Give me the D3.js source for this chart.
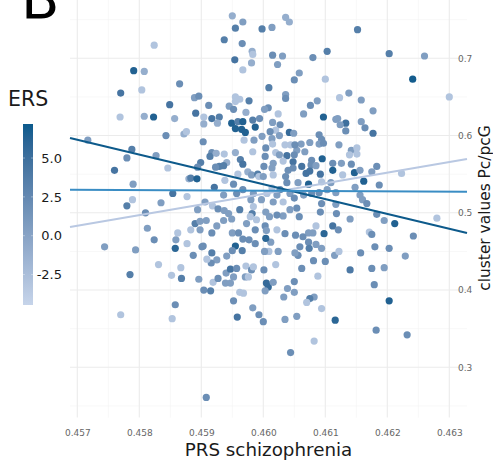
<!DOCTYPE html>
<html>
<head>
<meta charset="utf-8">
<script src="https://cdn.jsdelivr.net/npm/d3@7"></script>
<style>
  body { margin: 0; background: #fff; }
  text { font-family: "DejaVu Sans", sans-serif; }
</style>
</head>
<body>
<div id="chart"></div>
<script>
// PRS schizophrenia (x), cluster values Pc/pcG (y), ERS (colour)
const prs = [
  0.4595,0.45967,0.45955,0.45937,0.45966,0.45824,0.45982,0.45983,0.45954,0.45981,
  0.45967,0.45791,0.45808,0.45865,0.4577,0.45804,0.45889,0.45896,0.45955,0.45962,
  0.45955,0.45977,0.45945,0.45849,0.45912,0.45952,0.45769,0.45808,0.45823,0.45857,
  0.45891,0.45904,0.45917,0.45929,0.45972,0.45926,0.45904,0.45949,0.45959,0.45967,
  0.45983,0.45987,0.45955,0.45965,0.45971,0.45843,0.45872,0.45876,0.45969,0.45985,
  0.45903,0.45717,0.45788,0.4578,0.45827,0.45917,0.45914,0.45924,0.45937,0.45955,
  0.45983,0.4576,0.45846,0.45899,0.45941,0.45963,0.45967,0.45929,0.45936,0.45923,
  0.45894,0.4588,0.45883,0.45893,0.45959,0.45975,0.45981,0.45991,0.45993,0.45994,
  0.45938,
  0.45998,0.46014,0.46036,0.46042,0.46152,0.46015,0.46031,0.46023,0.46103,0.4608,
  0.46203,0.4626,0.46241,0.46058,0.4605,0.461,0.46009,0.46036,0.46036,0.46087,
  0.46076,0.46123,0.46138,0.46158,0.46177,0.46065,0.46097,0.46117,0.46133,0.46158,
  0.46164,0.46177,0.46008,0.46002,0.46024,0.46015,0.46027,0.4602,0.46042,0.46049,
  0.46026,0.46014,0.45998,0.46004,0.46015,0.46035,0.46044,0.46061,0.46075,0.4609,
  0.46094,0.4609,0.46097,0.46122,0.46142,0.46151,0.46139,0.46151,0.46054,0.46067,
  0.4602,0.46026,0.46038,0.4605,0.46003,0.46016,0.46032,0.46048,0.46078,0.46095,
  0.46077,0.46085,0.46112,0.46126,0.46142,0.46001,0.46014,0.4604,0.46048,0.46062,
  0.46069,0.46075,0.46092,0.46112,0.46128,0.46147,0.46156,0.46175,0.46183,0.46223,
  0.46036,0.46016,0.46,0.463,0.46011,0.46051,0.4612,0.46124,0.46133,
  0.4579,0.45789,0.4578,0.45835,0.45854,0.45921,0.45936,0.45952,0.45957,0.45967,
  0.45906,0.45918,0.45927,0.45937,0.45944,0.45949,0.45962,0.45982,0.45984,0.45894,
  0.4589,0.45898,0.45908,0.45883,0.45898,0.45917,0.45925,0.45936,0.4595,0.4596,
  0.45973,0.45979,0.45987,0.45989,0.45967,0.45977,0.45987,0.45955,0.45966,0.4595,
  0.45941,0.45925,0.45916,0.45909,0.45917,0.45901,0.45887,0.45877,0.45862,0.45859,
  0.45858,0.45824,0.45813,0.4581,0.45794,0.45744,0.45831,0.45785,0.45852,0.45867,
  0.45868,0.45896,0.45919,0.45927,0.4594,0.45947,0.45957,0.45972,0.45981,0.45952,
  0.45939,0.45947,0.45971,0.45976,0.45984,0.45904,0.45915,0.45952,0.45962,0.45968,
  0.45983,0.45993,0.45958,0.45858,0.45853,0.4577,0.45908,0.45984,0.4598,0.45877,
  0.45903,
  0.46038,0.46056,0.46073,0.46094,0.46109,0.46148,0.46162,0.46187,0.46014,0.46027,
  0.46043,0.4605,0.46022,0.46006,0.45997,0.46016,0.46032,0.46065,0.46078,0.4609,
  0.46103,0.46117,0.46094,0.46092,0.46117,0.46118,0.46156,0.4616,0.46167,0.46054,
  0.46043,0.46032,0.46022,0.4601,0.46004,0.46058,0.46085,0.46073,0.4608,0.46098,
  0.46112,0.46121,0.4614,0.46183,0.46195,0.46212,0.46242,0.4628,0.46171,0.46175,
  0.4618,0.46203,0.46229,0.46195,0.46175,0.46179,0.46157,0.4614,0.46203,0.46182,
  0.46232,0.46116,0.46082,0.46044,0.46054,0.46035,0.46094,0.46082,0.46075,0.4607,
  0.46039,0.4605,0.4605,0.46033,0.46088,0.461,0.46081,0.46062,0.46115,0.46122,
  0.46094,0.46085,0.46073,0.46074,0.46059,0.46056,0.46051,0.46064,0.46052,0.46024,
  0.4602,0.46009,0.46002,0.46012,0.46004,0.46003,0.46005,0.46001,0.46005,0.46008,
  0.46003,0.46016,0.46035,0.46022,0.46
];
const cluster = [
  0.755,0.747,0.739,0.724,0.719,0.717,0.709,0.705,0.698,0.694,
  0.685,0.684,0.683,0.667,0.655,0.659,0.649,0.651,0.650,0.647,
  0.644,0.645,0.638,0.640,0.639,0.634,0.624,0.625,0.624,0.622,
  0.629,0.624,0.622,0.624,0.630,0.616,0.615,0.616,0.618,0.618,
  0.620,0.611,0.609,0.608,0.604,0.600,0.602,0.605,0.594,0.594,
  0.592,0.594,0.582,0.571,0.574,0.578,0.573,0.577,0.576,0.578,
  0.579,0.555,0.558,0.565,0.565,0.569,0.563,0.560,0.561,0.559,
  0.559,0.544,0.545,0.544,0.550,0.553,0.549,0.550,0.547,0.622,
  0.542,
  0.738,0.740,0.753,0.747,0.737,0.704,0.703,0.692,0.709,0.701,
  0.706,0.703,0.673,0.681,0.672,0.673,0.662,0.653,0.648,0.645,
  0.639,0.649,0.655,0.646,0.632,0.628,0.624,0.621,0.616,0.618,
  0.610,0.603,0.636,0.634,0.628,0.617,0.614,0.607,0.604,0.603,
  0.600,0.596,0.599,0.584,0.589,0.588,0.588,0.589,0.591,0.601,
  0.595,0.589,0.590,0.588,0.581,0.584,0.575,0.576,0.581,0.579,
  0.578,0.575,0.574,0.575,0.573,0.564,0.567,0.566,0.568,0.570,
  0.562,0.561,0.564,0.564,0.563,0.560,0.558,0.555,0.558,0.560,
  0.551,0.554,0.550,0.555,0.549,0.552,0.555,0.553,0.560,0.551,
  0.547,0.549,0.547,0.650,0.605,0.588,0.622,0.614,0.606,
  0.537,0.517,0.509,0.513,0.525,0.533,0.523,0.537,0.525,0.530,
  0.514,0.509,0.505,0.503,0.499,0.492,0.504,0.499,0.508,0.504,
  0.486,0.489,0.490,0.478,0.478,0.474,0.483,0.490,0.474,0.474,
  0.486,0.495,0.478,0.491,0.466,0.465,0.460,0.457,0.451,0.451,
  0.444,0.439,0.435,0.440,0.448,0.456,0.445,0.460,0.474,0.465,
  0.454,0.465,0.480,0.500,0.452,0.456,0.433,0.420,0.419,0.429,
  0.415,0.414,0.410,0.415,0.422,0.427,0.428,0.431,0.426,0.417,
  0.409,0.409,0.417,0.417,0.430,0.400,0.399,0.386,0.397,0.396,
  0.377,0.368,0.365,0.381,0.363,0.368,0.261,0.525,0.517,0.521,
  0.457,
  0.539,0.539,0.537,0.540,0.539,0.533,0.541,0.536,0.532,0.530,
  0.525,0.519,0.523,0.525,0.517,0.514,0.514,0.523,0.525,0.526,
  0.530,0.526,0.512,0.501,0.511,0.499,0.523,0.517,0.512,0.506,
  0.504,0.496,0.497,0.495,0.501,0.495,0.483,0.474,0.474,0.473,
  0.483,0.478,0.492,0.498,0.490,0.486,0.470,0.493,0.475,0.472,
  0.456,0.454,0.444,0.429,0.428,0.407,0.448,0.426,0.386,0.348,
  0.342,0.361,0.334,0.319,0.366,0.362,0.376,0.391,0.389,0.384,
  0.402,0.397,0.411,0.391,0.418,0.437,0.438,0.428,0.445,0.450,
  0.454,0.459,0.462,0.454,0.456,0.445,0.448,0.469,0.471,0.450,
  0.433,0.450,0.450,0.462,0.467,0.483,0.477,0.426,0.409,0.404,
  0.399,0.410,0.473,0.478,0.359
];
const ers = [
  -1,0.5,3.5,3.5,2,-3,-1,-3,4.5,-1,
  -3,6.5,-1,2,4.5,-3,0.5,2,-3,-3,
  -3,3.5,0.5,4.5,2,2,-3,-1,6.5,-1,
  4.5,-3,4.5,3.5,-1,-1,-1,6.5,3.5,6.5,
  3.5,6.5,6.5,6.5,6.5,2,-1,-3,-3,0.5,
  2,0.5,3.5,2,0.5,2,3.5,-1,-3,-1,
  -3,4.5,-3,3.5,-1,3.5,4.5,3.5,3.5,2,
  2,-1,3.5,6.5,-3,-1,0.5,3.5,-3,2,
  -3,
  3.5,0.5,-1,-1,3.5,2,0.5,0.5,3.5,2,
  3.5,0.5,7,0.5,2,-3,3.5,0.5,2,0.5,
  2,-3,0.5,0.5,0.5,0.5,6.5,0.5,5,0.5,
  2,4.5,2,0.5,-3,0.5,2,-3,5.5,0.5,
  0.5,0.5,0.5,2,-3,-3,-3,0.5,0.5,2,
  2,0.5,2,0.5,0.5,-3,-3,-3,0.5,0.5,
  -3,0.5,4.5,2,2,0.5,-3,4.5,2,6.5,
  2,0.5,2,0.5,2,2,0.5,2,2,4.5,
  4.5,4.5,4.5,6.5,-3,6.5,0.5,0.5,2,-3,
  2,-3,0.5,-3,2,2,0.5,0.5,2,
  0.5,-3,3.5,0.5,4.5,4.5,0.5,2,2,2,
  0.5,-3,2,0.5,0.5,0.5,3.5,3.5,-3,0.5,
  3.5,0.5,0.5,-3,0.5,2,0.5,0.5,0.5,2,
  0.5,-3,2,-3,2,2,2,6.5,3.5,2,
  0.5,0.5,2,-3,3.5,2,2,-3,-3,0.5,
  6,2,0.5,2,0.5,0.5,-3,3.5,-3,-3,
  3.5,0.5,-3,2,0.5,4.5,2,-3,2,0.5,
  0.5,0.5,0.5,-3,-3,2,3.5,2,-3,-3,
  0.5,2,4.5,2,-3,-3,2,0.5,0.5,-3,
  2,
  2,0.5,6.5,-3,0.5,0.5,6.5,2,-3,2,
  0.5,2,0.5,-3,0.5,0.5,-3,0.5,2,2,
  0.5,0.5,2,2,0.5,2,0.5,0.5,2,2,
  0.5,0.5,2,0.5,0.5,2,-3,0.5,0.5,6,
  4.5,2,0.5,2,0.5,6.5,2,-3,-3,2,
  2,2,0.5,0.5,2,2,2,4,6.5,2,
  2,6,-3,2,0.5,0.5,-3,0.5,3.5,-3,
  0.5,0.5,2,0.5,-3,2,2,2,0.5,-3,
  0.5,0.5,2,3.5,2,2,0.5,2,2,0.5,
  -3,-3,0.5,0.5,6,2,0.5,2,5.5,5.5,
  0.5,0.5,2,-3,2
];

// fitted lines at ERS high / mean / low: value at x = 0.457 and x = 0.463
const lineNames = ["high", "mean", "low"];
const lineAtStart = [0.5946, 0.5299, 0.4832];
const lineAtEnd = [0.4793, 0.5275, 0.5657];
const lineColors = ["#0d5a8b", "#3a8dc4", "#b9c8e2"];

const xTicks = [0.457, 0.458, 0.459, 0.460, 0.461, 0.462, 0.463];
const yTicks = [0.3, 0.4, 0.5, 0.6, 0.7];
const ersTicks = [-2.5, 0.0, 2.5, 5.0];
const ersRange = [-4.46, 7.19];

const width = 493, height = 462;
const panel = {left: 70, right: 467, top: -1.5, bottom: 417.5};

const svg = d3.select("#chart").append("svg")
  .attr("width", width)
  .attr("height", height);

const x = d3.scaleLinear().domain([0.457, 0.463]).range([77.3, 449.3]);
const y = d3.scaleLinear().domain([0.3, 0.7]).range([367.3, 58.3]);
const color = d3.scaleLinear().domain(ersRange)
  .range(["#c6d4ea", "#0b5a8c"])
  .interpolate(d3.interpolateLab);

// grid (theme_minimal)
const xMinor = d3.range(6).map(i => 0.4575 + i * 0.001);
const yMinor = [0.25, 0.35, 0.45, 0.55, 0.65, 0.75];
const grid = svg.append("g");
grid.selectAll(".xminor").data(xMinor).enter().append("line")
  .attr("x1", d => x(d)).attr("x2", d => x(d))
  .attr("y1", panel.top).attr("y2", panel.bottom)
  .attr("stroke", "#f2f2f2").attr("stroke-width", 0.6);
grid.selectAll(".yminor").data(yMinor).enter().append("line")
  .attr("x1", panel.left).attr("x2", panel.right)
  .attr("y1", d => y(d)).attr("y2", d => y(d))
  .attr("stroke", "#f2f2f2").attr("stroke-width", 0.6);
grid.selectAll(".xmajor").data(xTicks).enter().append("line")
  .attr("x1", d => x(d)).attr("x2", d => x(d))
  .attr("y1", panel.top).attr("y2", panel.bottom)
  .attr("stroke", "#ebebeb").attr("stroke-width", 1.1);
grid.selectAll(".ymajor").data(yTicks).enter().append("line")
  .attr("x1", panel.left).attr("x2", panel.right)
  .attr("y1", d => y(d)).attr("y2", d => y(d))
  .attr("stroke", "#ebebeb").attr("stroke-width", 1.1);

// points
const pts = prs.map((p, i) => ({p: p, c: cluster[i], e: ers[i]}));
svg.append("g").selectAll("circle")
  .data(pts)
  .enter().append("circle")
  .attr("cx", d => x(d.p))
  .attr("cy", d => y(d.c))
  .attr("r", 3.6)
  .attr("fill", d => color(d.e));

// regression lines across the panel
const xLeft = x.invert(panel.left), xRight = x.invert(panel.right);
const lines = lineNames.map((n, i) => {
  const slope = (lineAtEnd[i] - lineAtStart[i]) / (0.463 - 0.457);
  const at = v => lineAtStart[i] + slope * (v - 0.457);
  return {name: n, color: lineColors[i], pts: [[xLeft, at(xLeft)], [xRight, at(xRight)]]};
});
const lineGen = d3.line().x(d => x(d[0])).y(d => y(d[1]));
svg.append("g").selectAll("path")
  .data([lines[2], lines[0], lines[1]])
  .enter().append("path")
  .attr("d", d => lineGen(d.pts))
  .attr("fill", "none")
  .attr("stroke", d => d.color)
  .attr("stroke-width", 2);

// axes (right y axis, bottom x axis, no lines)
const xAxis = svg.append("g")
  .attr("transform", "translate(0," + 429 + ")")
  .call(d3.axisBottom(x).tickValues(xTicks).tickFormat(d3.format(".3f")).tickSize(0));
xAxis.select(".domain").remove();
xAxis.selectAll("text")
  .attr("fill", "#666").attr("font-size", "9px")
  .attr("font-family", "DejaVu Sans, sans-serif").attr("dy", "0.32em").attr("y", 4);

const yAxis = svg.append("g")
  .attr("transform", "translate(" + 457 + ",0)")
  .call(d3.axisRight(y).tickValues(yTicks).tickFormat(d3.format(".1f")).tickSize(0));
yAxis.select(".domain").remove();
yAxis.selectAll("text")
  .attr("fill", "#666").attr("font-size", "9px")
  .attr("font-family", "DejaVu Sans, sans-serif").attr("x", 1);

// axis titles
svg.append("text")
  .attr("x", (panel.left + panel.right) / 2)
  .attr("y", 456)
  .attr("text-anchor", "middle")
  .attr("font-size", "18.3px")
  .attr("fill", "#1a1a1a")
  .text("PRS schizophrenia");

svg.append("text")
  .attr("transform", "translate(489.5," + (panel.top + panel.bottom) / 2 + ") rotate(-90)")
  .attr("text-anchor", "middle")
  .attr("font-size", "15.4px")
  .attr("fill", "#1a1a1a")
  .text("cluster values Pc/pcG");

// panel tag (cut at the top, as in the source figure)
svg.append("text")
  .attr("x", 21).attr("y", 18)
  .attr("font-size", "56px")
  .attr("fill", "#000")
  .text("B");

// colour legend
const legend = svg.append("g");
legend.append("text")
  .attr("x", 8).attr("y", 106)
  .attr("font-size", "20.5px")
  .attr("fill", "#1a1a1a")
  .text("ERS");

const barTop = 124, barBottom = 305, barX = 23, barW = 10;
const ly = d3.scaleLinear().domain(ersRange).range([barBottom, barTop]);
const defs = svg.append("defs");
const grad = defs.append("linearGradient")
  .attr("id", "ersgrad")
  .attr("x1", "0").attr("y1", "1").attr("x2", "0").attr("y2", "0");
d3.range(11).forEach(i => {
  const t = i / 10;
  grad.append("stop")
    .attr("offset", t)
    .attr("stop-color", color(ersRange[0] + t * (ersRange[1] - ersRange[0])));
});
legend.append("rect")
  .attr("x", barX).attr("y", barTop)
  .attr("width", barW).attr("height", barBottom - barTop)
  .attr("fill", "url(#ersgrad)");

legend.selectAll(".tick1").data(ersTicks).enter().append("line")
  .attr("x1", barX).attr("x2", barX + 2)
  .attr("y1", d => ly(d)).attr("y2", d => ly(d))
  .attr("stroke", "#fff").attr("stroke-opacity", 0.6).attr("stroke-width", 0.6);
legend.selectAll(".tick2").data(ersTicks).enter().append("line")
  .attr("x1", barX + barW - 2).attr("x2", barX + barW)
  .attr("y1", d => ly(d)).attr("y2", d => ly(d))
  .attr("stroke", "#fff").attr("stroke-opacity", 0.6).attr("stroke-width", 0.6);

legend.selectAll(".lab").data(ersTicks).enter().append("text")
  .attr("x", 62)
  .attr("y", d => ly(d))
  .attr("dy", "0.36em")
  .attr("text-anchor", "end")
  .attr("font-size", "13px")
  .attr("fill", "#1a1a1a")
  .text(d => d3.format(".1f")(d).replace("−", "-"));
</script>
</body>
</html>
